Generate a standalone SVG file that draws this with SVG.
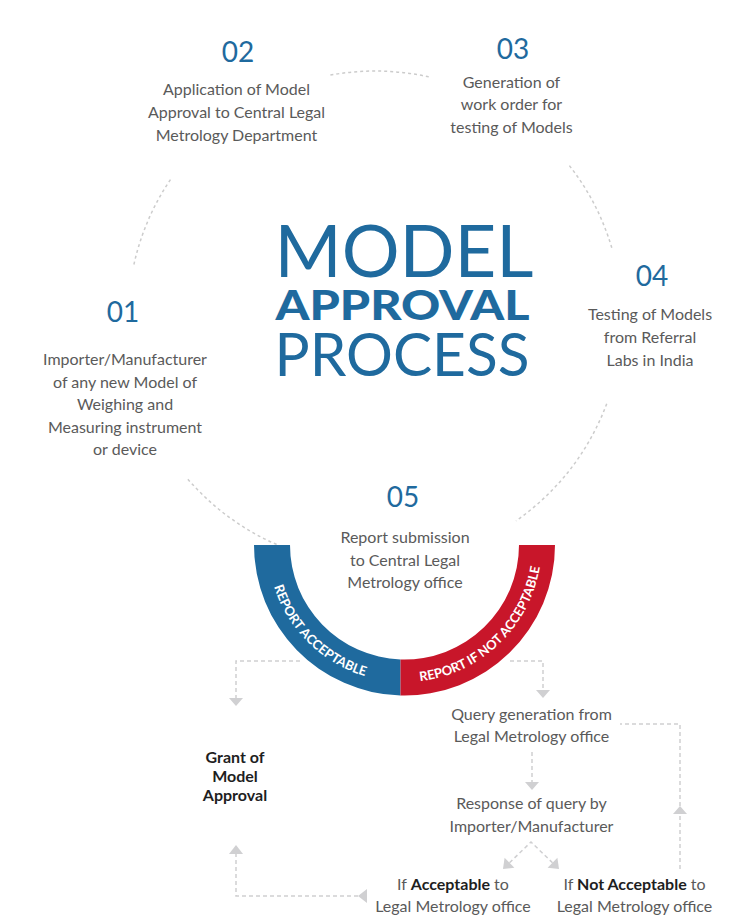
<svg xmlns="http://www.w3.org/2000/svg" width="743" height="917" viewBox="0 0 743 917">
<style>
.num{font-family:Lato,"Open Sans","Liberation Sans",sans-serif;font-size:28px;fill:#1f6a9e;text-anchor:middle}
.body{font-family:Lato,"Open Sans","Liberation Sans",sans-serif;font-size:16px;fill:#5a5a5a;text-anchor:middle}
.dark{fill:#1e1e1e;font-weight:700}
.title{font-family:Lato,"Open Sans","Liberation Sans",sans-serif;fill:#1f6a9e;text-anchor:middle}
.ring{font-family:Lato,"Open Sans","Liberation Sans",sans-serif;font-size:13px;font-weight:700;fill:#ffffff;text-anchor:middle}
.circ{fill:none;stroke:#cccccc;stroke-width:1.5;stroke-dasharray:3 3}
.dash{fill:none;stroke:#cfcfd1;stroke-width:1.5;stroke-dasharray:4 3}
.head{fill:#d0d0d2}
</style>
<defs>
<path id="pBlue" d="M267.5,545 A137,137 0 0 0 404.5,682"/>
<path id="pRed" d="M404.5,682 A137,137 0 0 0 541.5,545"/>
</defs>
<g id="cycle">
<path class="circ" d="M330.4,75.1 A247,247 0 0 1 429.7,77.1"/>
<path class="circ" d="M133.9,264.5 A247,247 0 0 1 170.7,179.2"/>
<path class="circ" d="M569.4,165.6 A247,247 0 0 1 612.3,249.5"/>
<path class="circ" d="M606.7,403.7 A247,247 0 0 1 516,520.8"/>
<path class="circ" d="M287.7,549 A247,247 0 0 1 187.5,478.7"/>
</g>
<g id="title">
<text class="title" x="404" y="277" font-size="72.5" font-weight="400" textLength="259" lengthAdjust="spacingAndGlyphs">MODEL</text>
<text class="title" x="402.5" y="320" font-size="41" font-weight="900" textLength="254" lengthAdjust="spacingAndGlyphs">APPROVAL</text>
<text class="title" x="402" y="376" font-size="60" font-weight="400" textLength="255" lengthAdjust="spacingAndGlyphs">PROCESS</text>
</g>
<g id="step01">
<text class="num" x="123" y="322">01</text>
<text class="body" x="125" y="365">Importer/Manufacturer</text>
<text class="body" x="125" y="387.5">of any new Model of</text>
<text class="body" x="125" y="410">Weighing and</text>
<text class="body" x="125" y="432.5">Measuring instrument</text>
<text class="body" x="125" y="455">or device</text>
</g>
<g id="step02">
<text class="num" x="238" y="62">02</text>
<text class="body" x="236.5" y="95">Application of Model</text>
<text class="body" x="236.5" y="118">Approval to Central Legal</text>
<text class="body" x="236.5" y="141">Metrology Department</text>
</g>
<g id="step03">
<text class="num" x="513" y="59">03</text>
<text class="body" x="511.5" y="88">Generation of</text>
<text class="body" x="511.5" y="110">work order for</text>
<text class="body" x="511.5" y="132.5">testing of Models</text>
</g>
<g id="step04">
<text class="num" x="652" y="286">04</text>
<text class="body" x="650" y="320">Testing of Models</text>
<text class="body" x="650" y="343">from Referral</text>
<text class="body" x="650" y="366">Labs in India</text>
</g>
<g id="step05">
<text class="num" x="403" y="507">05</text>
<text class="body" x="405" y="543">Report submission</text>
<text class="body" x="405" y="566">to Central Legal</text>
<text class="body" x="405" y="588">Metrology office</text>
</g>
<g id="report-acceptable">
<path fill="#1f6a9e" d="M254,545 A150.5,150.5 0 0 0 400.5,695.45 L400.5,659.43 A114.5,114.5 0 0 1 290,545 Z"/>
<text class="ring"><textPath href="#pBlue" startOffset="50.5%">REPORT ACCEPTABLE</textPath></text>
</g>
<g id="report-not-acceptable">
<path fill="#c8162a" d="M400.5,695.45 A150.5,150.5 0 0 0 555,545 L519,545 A114.5,114.5 0 0 1 400.5,659.43 Z"/>
<text class="ring"><textPath href="#pRed" startOffset="48.5%">REPORT IF NOT ACCEPTABLE</textPath></text>
</g>
<g id="grant">
<text class="body dark" x="235" y="763" font-size="16.5">Grant of</text>
<text class="body dark" x="235" y="782" font-size="16.5">Model</text>
<text class="body dark" x="235" y="801" font-size="16.5">Approval</text>
</g>
<g id="query">
<text class="body" x="531.5" y="720">Query generation from</text>
<text class="body" x="531.5" y="742">Legal Metrology office</text>
</g>
<g id="response">
<text class="body" x="531.5" y="809">Response of query by</text>
<text class="body" x="531.5" y="832">Importer/Manufacturer</text>
</g>
<g id="if-acceptable">
<text class="body" x="453" y="890">If <tspan class="dark">Acceptable</tspan> to</text>
<text class="body" x="453" y="912">Legal Metrology office</text>
</g>
<g id="if-not-acceptable">
<text class="body" x="634.5" y="890">If <tspan class="dark">Not Acceptable</tspan> to</text>
<text class="body" x="634.5" y="912">Legal Metrology office</text>
</g>
<g id="connectors">
<path class="dash" d="M300,661 H236 V698"/>
<polygon class="head" points="229,698 243,698 236,706"/>
<path class="dash" d="M510,661 H543 V690"/>
<polygon class="head" points="536,690 550,690 543,698"/>
<path class="dash" d="M532,752 V782"/>
<polygon class="head" points="525,782 539,782 532,790"/>
<path class="dash" d="M509.5,862.75 L531,842 L552.5,862.75"/>
<polygon class="head" points="503,869 514.4,867.8 504.6,857.7"/>
<polygon class="head" points="559,869 547.6,867.8 557.4,857.7"/>
<path class="dash" d="M680,869 V724 H620"/>
<polygon class="head" points="673,814 687,814 680,806"/>
<path class="dash" d="M358,896 H236 V854"/>
<polygon class="head" points="358,896 367,889 367,903"/>
<polygon class="head" points="229,854 243,854 236,845"/>
</g>
</svg>
